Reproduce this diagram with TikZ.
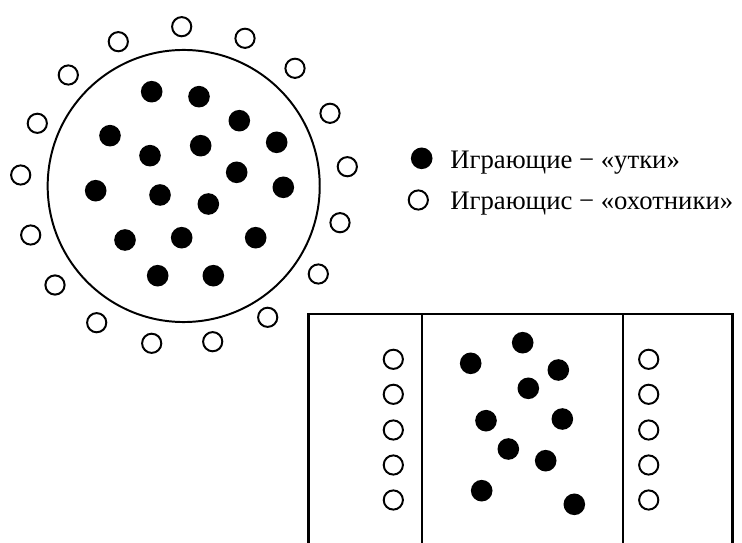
\documentclass[tikz,border=0pt]{standalone}
\usepackage{fontspec}
\setmainfont{Liberation Serif}
\tikzset{
  duck/.style={black,fill=black},
  hunter/.style={black,line width=1.4pt,fill=white},
  field/.style={black,line width=1.7pt},
  ring/.style={black,line width=1.4pt},
  legendtext/.style={anchor=base west,inner sep=0pt,font=\fontsize{19}{22}\selectfont}
}
\begin{document}
\begin{tikzpicture}[x=0.025cm,y=-0.025cm]
\useasboundingbox (0,0) rectangle (742,543);
% first variant: circle
\draw[ring] (183.7,186) circle (3.4cm);
\foreach \x/\y in {151.7/91.7,199/96.7,239.3/120.7,110/135.7,150/155.7,200.7/145.7,
  276.7/142.3,236.7/172.3,95.7/190.7,160/195,208.3/204,283.3/187.3,125/240,
  181.7/237.7,255.7/237.7,157.7/275.7,213.3/275.7}
  \fill[duck] (\x,\y) circle (0.27cm);
\foreach \x/\y in {181.7/26.7,245/38.3,118.3/41.7,295/68.3,68.3/75,330/113.3,
  37.3/123.3,347.3/166.7,20.7/175,340/222.7,30.7/235,318.3/274,55/285,
  267.7/317.3,96.7/322.7,151.7/343.3,212.7/341.7}
  \draw[hunter] (\x,\y) circle (0.24cm);
% legend
\fill[duck] (421.7,158.3) circle (0.27cm);
\draw[hunter] (418.3,200) circle (0.24cm);
\node[legendtext] (ducks) at (450,169) {Играющие − «утки»};
\node[legendtext] (hunters) at (450,210) {Играющис − «охотники»};
% second variant: field
\draw[field] (308.3,545) -- (308.3,314) -- (732.3,314) -- (732.3,545);
\draw[field] (421.7,314) -- (421.7,545);
\draw[field] (622.7,314) -- (622.7,545);
\foreach \y in {359.3,394.3,430,465,500}{
  \draw[hunter] (393.3,\y) circle (0.24cm);
  \draw[hunter] (648.7,\y) circle (0.24cm);
}
\foreach \x/\y in {522.7/342.7,470.7/363.3,558.3/370,528.3/388.3,486/420.7,
  562.3/419,508.3/449,545.7/460.7,481.7/490.7,574.3/504.3}
  \fill[duck] (\x,\y) circle (0.27cm);
\end{tikzpicture}
\end{document}
